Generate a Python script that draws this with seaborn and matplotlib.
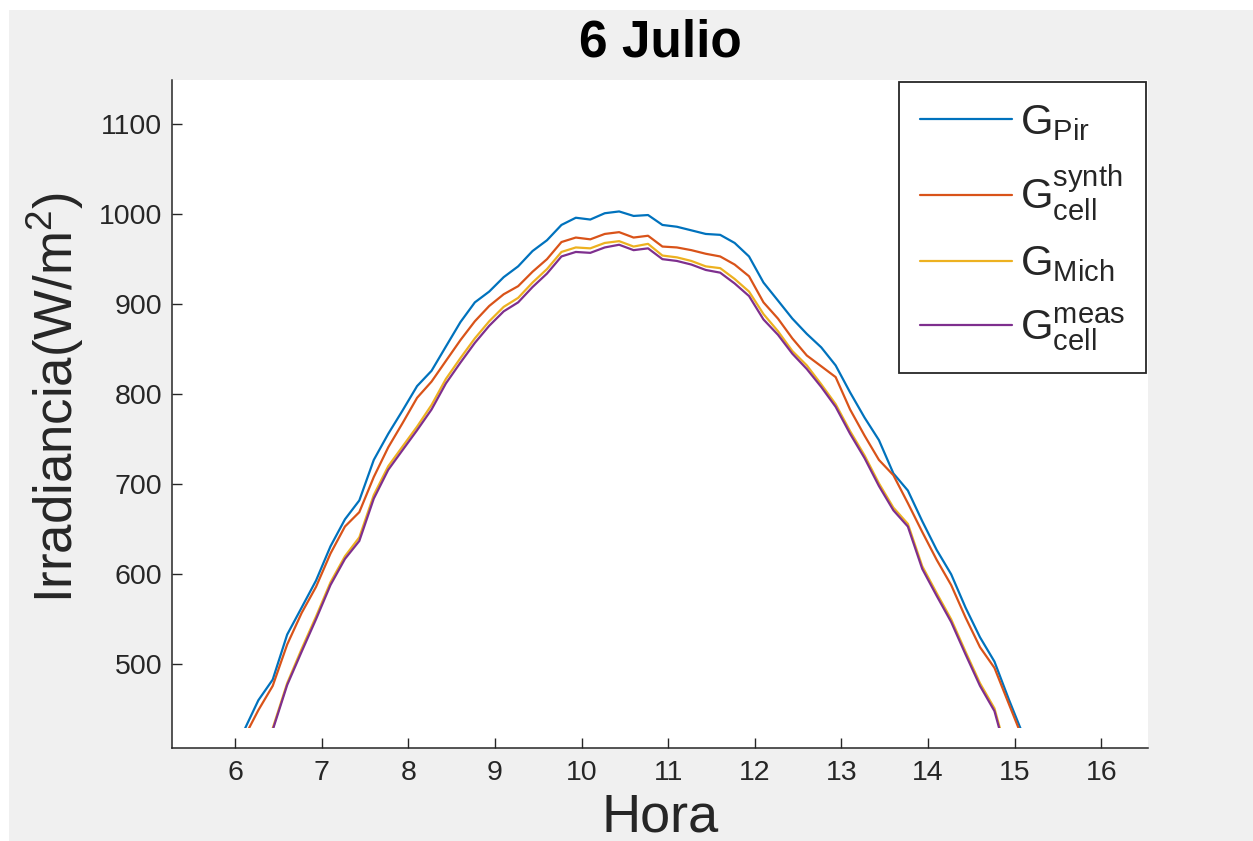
import numpy as np
import pandas as pd
import matplotlib
matplotlib.use("Agg")
import matplotlib.pyplot as plt
from matplotlib.patches import Rectangle
import seaborn as sns

# ---- data ----
hora = [6.100, 6.267, 6.433, 6.600, 6.767, 6.933, 7.100, 7.267, 7.433, 7.600,
        7.767, 7.933, 8.100, 8.267, 8.433, 8.600, 8.767, 8.933, 9.100, 9.267,
        9.433, 9.600, 9.767, 9.933, 10.100, 10.267, 10.433, 10.600, 10.767, 10.933,
        11.100, 11.267, 11.433, 11.600, 11.767, 11.933, 12.100, 12.267, 12.433, 12.600,
        12.767, 12.933, 13.100, 13.267, 13.433, 13.600, 13.767, 13.933, 14.100, 14.267,
        14.433, 14.600, 14.767, 14.933, 15.100]

g_pir = [426, 460, 483, 533, 563, 593, 631, 661, 682, 727,
         756, 782, 809, 826, 853, 880, 902, 914, 930, 942,
         959, 971, 988, 996, 994, 1001, 1003, 998, 999, 988,
         986, 982, 978, 977, 968, 953, 924, 904, 884, 867,
         852, 832, 802, 774, 749, 712, 693, 659, 627, 600,
         563, 530, 503, 461, 421]

g_synth = [418, 449, 476, 522, 557, 586, 623, 653, 669, 708,
           741, 768, 796, 814, 837, 860, 881, 898, 911, 920,
           936, 950, 969, 974, 972, 978, 980, 974, 976, 964,
           963, 960, 956, 953, 944, 931, 902, 884, 862, 843,
           831, 819, 783, 754, 727, 710, 679, 647, 616, 588,
           552, 519, 496, 456, 416]

g_mich = [338, 379, 429, 479, 517, 553, 591, 620, 641, 688,
          720, 742, 764, 788, 817, 840, 862, 881, 897, 907,
          924, 939, 958, 963, 962, 968, 970, 964, 967, 954,
          952, 948, 942, 940, 928, 914, 889, 870, 848, 832,
          811, 789, 759, 732, 701, 674, 656, 609, 579, 550,
          514, 479, 451, 393, 338]

g_meas = [336, 377, 427, 477, 514, 550, 588, 617, 637, 684,
          716, 738, 760, 783, 812, 835, 857, 876, 892, 902,
          919, 934, 953, 958, 957, 963, 966, 960, 962, 950,
          948, 944, 938, 935, 923, 909, 883, 866, 845, 828,
          808, 786, 756, 729, 698, 671, 653, 606, 576, 547,
          511, 476, 448, 390, 335]

series_names = ["G_Pir", "G_synth", "G_Mich", "G_meas"]
legend_labels = [r"$\mathrm{G}_{\mathrm{Pir}}$",
                 r"$\mathrm{G}_{\mathrm{cell}}^{\mathrm{synth}}$",
                 r"$\mathrm{G}_{\mathrm{Mich}}$",
                 r"$\mathrm{G}_{\mathrm{cell}}^{\mathrm{meas}}$"]
colors = ["#0072BD", "#D95319", "#EDB120", "#7E2F8E"]
x_ticks = [6, 7, 8, 9, 10, 11, 12, 13, 14, 15, 16]
y_ticks = [500, 600, 700, 800, 900, 1000, 1100]

# ---- build long table ----
frames = []
for name, vals in zip(series_names, [g_pir, g_synth, g_mich, g_meas]):
    frames.append(pd.DataFrame({"Hora": hora, "G": vals, "Serie": name}))
df = pd.concat(frames, ignore_index=True)

# ---- style ----
sns.set_style("white")
plt.rcParams["font.family"] = ["Liberation Sans", "DejaVu Sans"]
plt.rcParams["mathtext.fontset"] = "custom"
plt.rcParams["mathtext.rm"] = "Liberation Sans"
plt.rcParams["mathtext.it"] = "Liberation Sans:italic"
plt.rcParams["mathtext.bf"] = "Liberation Sans:bold"

W, H = 1253, 841
fig = plt.figure(figsize=(W / 100, H / 100), dpi=100, facecolor="white")
# grey figure background with thin white margin top/left
bg = Rectangle((9 / W, 0), 1 - 9 / W, 1 - 10 / H,
               transform=fig.transFigure, facecolor="#f0f0f0",
               edgecolor="none", zorder=-10)
fig.patches.append(bg)

ax = fig.add_axes([172 / W, 1 - 748 / H, (1148 - 172) / W, (748 - 80) / H])
ax.set_facecolor("white")

sns.lineplot(data=df, x="Hora", y="G", hue="Serie", hue_order=series_names,
             palette=colors, linewidth=1.6, ax=ax, legend=False, sort=False)

ax.set_xlim(5.27, 16.54)
ax.set_ylim(407, 1149)

# clip lines at lower data edge (as in reference)
clip = Rectangle((5.27, 429), 16.54 - 5.27, 1149 - 429, transform=ax.transData)
for ln in ax.get_lines():
    ln.set_clip_path(clip)

ax.set_xticks(x_ticks)
ax.set_yticks(y_ticks)

dark = "#262626"
for s in ["top", "right"]:
    ax.spines[s].set_visible(False)
for s in ["left", "bottom"]:
    ax.spines[s].set_color(dark)
    ax.spines[s].set_linewidth(1.1)

ax.tick_params(axis="both", direction="in", length=7, width=1.0, color=dark,
               labelcolor=dark, labelsize=20.5, bottom=True, left=True,
               top=False, right=False)
ax.tick_params(axis="x", pad=9)
ax.tick_params(axis="y", pad=7)

ax.set_title("6 Julio", fontsize=37, fontweight="bold", color="black", pad=17)
ax.set_xlabel("Hora", fontsize=39, color=dark, labelpad=4)
ax.set_ylabel(r"Irradiancia(W/m$^{2}$)", fontsize=38, color=dark)
ax.yaxis.set_label_coords(-0.088, 0.525)

handles = [plt.Line2D([], [], color=c, lw=1.6) for c in colors]
leg = ax.legend(handles, legend_labels, loc="upper right", fontsize=30,
                frameon=True, fancybox=False, framealpha=1, edgecolor=dark,
                borderaxespad=0.05, handlelength=2.2, handletextpad=0.2,
                labelspacing=0.5, borderpad=0.5)
leg.get_frame().set_linewidth(1.3)

fig.savefig("out.png", dpi=100, facecolor=fig.get_facecolor())
